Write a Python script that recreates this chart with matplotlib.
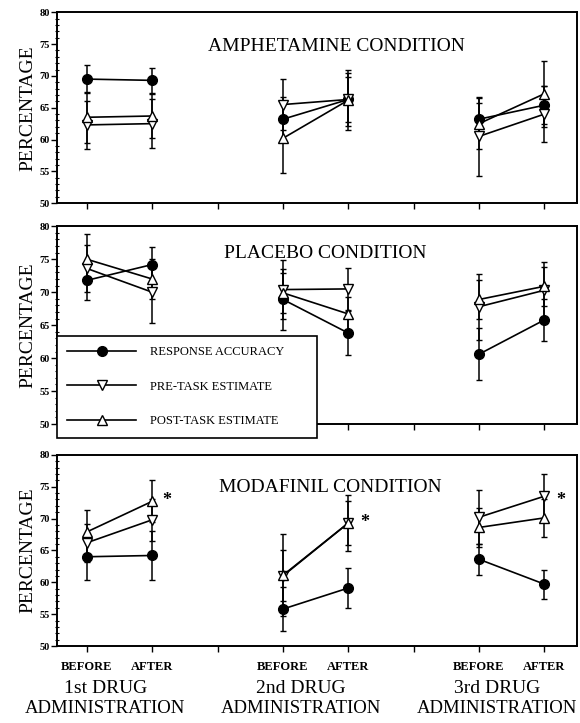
import numpy as np
import matplotlib
matplotlib.use("Agg")
from matplotlib import pyplot as plt
from matplotlib.lines import Line2D

# x positions: before/after for each drug administration
x_pos = [1, 2, 4, 5, 7, 8]
drug_names = ['1st DRUG', '2nd DRUG', '3rd DRUG']

# amphetamine condition
amph_acc = [69.5, 69.3, 63.2, 66.3, 63.2, 65.4]
amph_acc_err = [2.2, 2.0, 3.5, 3.5, 2.5, 3.0]
amph_pre = [62.3, 62.5, 65.5, 66.3, 60.5, 64.0]
amph_pre_err = [3.8, 3.9, 4.0, 4.2, 6.2, 4.4]
amph_post = [63.5, 63.7, 60.2, 66.2, 62.5, 67.2]
amph_post_err = [4.0, 3.5, 5.5, 4.7, 4.0, 5.2]

# placebo condition
plac_acc = [71.8, 74.2, 68.9, 63.8, 60.6, 65.8]
plac_acc_err = [3.0, 2.6, 4.6, 3.4, 3.9, 3.2]
plac_pre = [73.6, 70.0, 70.4, 70.5, 67.8, 70.3]
plac_pre_err = [3.5, 4.6, 4.5, 3.2, 5.0, 4.3]
plac_post = [75.0, 72.0, 69.9, 66.7, 68.9, 70.9]
plac_post_err = [3.8, 3.0, 3.0, 2.5, 3.0, 3.0]

# modafinil condition
moda_acc = [64.0, 64.2, 55.8, 59.1, 63.6, 59.7]
moda_acc_err = [3.6, 3.8, 3.4, 3.1, 2.4, 2.3]
moda_pre = [66.2, 69.8, 61.0, 69.3, 70.2, 73.5]
moda_pre_err = [3.0, 3.3, 4.0, 4.4, 4.2, 3.5]
moda_post = [67.9, 72.7, 61.1, 69.3, 68.6, 70.1]
moda_post_err = [3.5, 3.3, 6.4, 3.5, 3.0, 3.0]
moda_star_x = [2.22, 5.25, 8.25]
moda_star_y = [72.9, 69.3, 72.9]

serif = 'Liberation Serif'

fig = plt.figure(figsize=(5.8, 7.23), dpi=100)
ax1 = fig.add_axes([0.098, 0.719, 0.897, 0.264])
ax2 = fig.add_axes([0.098, 0.4135, 0.897, 0.2735])
ax3 = fig.add_axes([0.098, 0.1065, 0.897, 0.2645])

panels = [
    (ax1, 'AMPHETAMINE CONDITION', 0.537, 0.82, amph_acc, amph_acc_err, amph_pre, amph_pre_err, amph_post, amph_post_err),
    (ax2, 'PLACEBO CONDITION', 0.515, 0.86, plac_acc, plac_acc_err, plac_pre, plac_pre_err, plac_post, plac_post_err),
    (ax3, 'MODAFINIL CONDITION', 0.525, 0.83, moda_acc, moda_acc_err, moda_pre, moda_pre_err, moda_post, moda_post_err),
]

for ax, title, tx, ty, acc, acc_e, pre, pre_e, post, post_e in panels:
    series = [(acc, acc_e, 'o', 'black'), (pre, pre_e, 'v', 'white'), (post, post_e, '^', 'white')]
    for vals, errs, mk, fc in series:
        for k in range(3):
            xs = x_pos[2*k:2*k+2]
            ys = vals[2*k:2*k+2]
            es = errs[2*k:2*k+2]
            ax.errorbar(xs, ys, yerr=es, color='black', lw=1.2, marker=mk, ms=7,
                        mfc=fc, mec='black', mew=1.0, ecolor='black', elinewidth=1.1,
                        capsize=2.5, capthick=1.1)
    ax.set_xlim(0.54, 8.5)
    ax.set_ylim(50, 80)
    ax.set_yticks([50, 55, 60, 65, 70, 75, 80])
    ax.set_yticks(np.arange(50, 81, 1), minor=True)
    ax.set_xticks([1, 2, 3, 4, 5, 6, 7, 8])
    ax.set_xticklabels([])
    ax.tick_params(axis='y', which='major', direction='out', length=4, width=1.0, labelsize=7.5, pad=1)
    ax.tick_params(axis='y', which='minor', direction='inout', length=3, width=0.8)
    ax.tick_params(axis='x', direction='out', length=4, width=1.0)
    for lab in ax.get_yticklabels():
        lab.set_fontfamily(serif)
        lab.set_fontweight('bold')
    for sp in ax.spines.values():
        sp.set_linewidth(1.4)
    ax.set_ylabel('PERCENTAGE', fontfamily=serif, fontsize=14, labelpad=2)
    ax.text(tx, ty, title, transform=ax.transAxes, ha='center', va='center',
            fontfamily=serif, fontsize=14)

for sx, sy in zip(moda_star_x, moda_star_y):
    ax3.text(sx, sy, '*', ha='center', va='center', fontsize=13, fontweight='bold', fontfamily=serif)

# legend in placebo panel
handles = [
    Line2D([], [], color='black', lw=1.2, marker='o', ms=7, mfc='black', mec='black'),
    Line2D([], [], color='black', lw=1.2, marker='v', ms=7, mfc='white', mec='black'),
    Line2D([], [], color='black', lw=1.2, marker='^', ms=7, mfc='white', mec='black'),
]
labels = ['RESPONSE ACCURACY', 'PRE-TASK ESTIMATE', 'POST-TASK ESTIMATE']
leg = ax2.legend(handles, labels, loc='lower left', bbox_to_anchor=(0.0, -0.07, 0.5, 0.54),
                 mode='expand', borderaxespad=0, fancybox=False, edgecolor='black',
                 framealpha=1, handlelength=5.5, handletextpad=1.1, labelspacing=1.8,
                 borderpad=0.85, prop={'family': serif, 'size': 9})
leg.get_frame().set_linewidth(1.2)

# x labels under the bottom panel
xt = ax3.get_xaxis_transform()
for k, name in enumerate(drug_names):
    xb = x_pos[2*k]
    xa = x_pos[2*k+1]
    ax3.text(xb, -0.11, 'BEFORE', transform=xt, ha='center', va='center',
             fontfamily=serif, fontsize=9, fontweight='bold')
    ax3.text(xa, -0.11, 'AFTER', transform=xt, ha='center', va='center',
             fontfamily=serif, fontsize=9, fontweight='bold')
    mid = (xb + xa) / 2 - 0.22
    ax3.text(mid, -0.22, name, transform=xt, ha='center', va='center',
             fontfamily=serif, fontsize=14)
    ax3.text(mid, -0.325, 'ADMINISTRATION', transform=xt, ha='center', va='center',
             fontfamily=serif, fontsize=13.5)

fig.savefig('out.png', dpi=100)
